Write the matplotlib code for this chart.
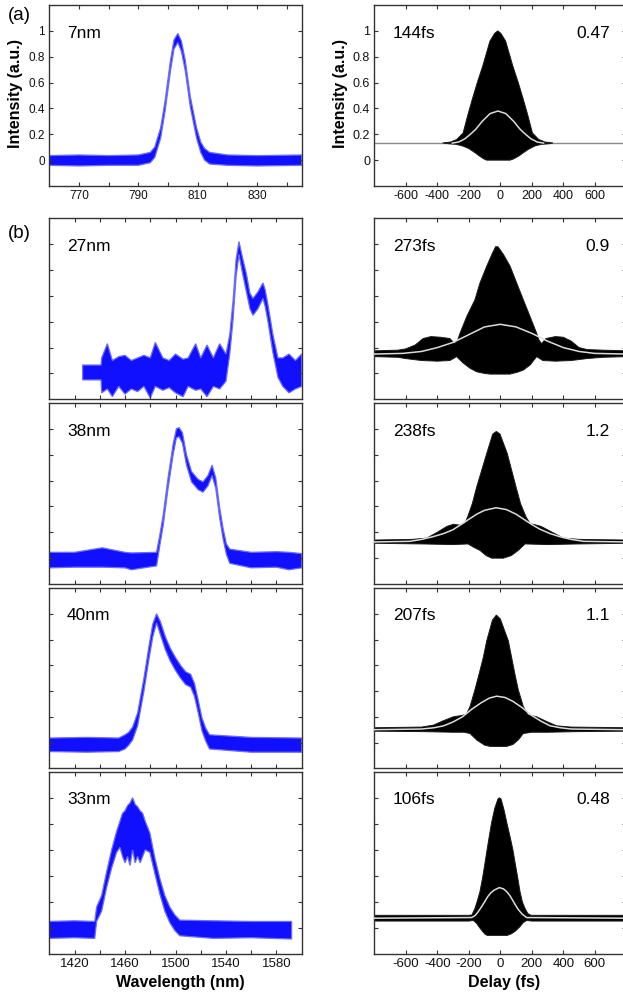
import matplotlib.pyplot as plt

plt.rcParams['font.family'] = ['Liberation Sans', 'DejaVu Sans']

# ---- spectra: wavelength (nm), lower / upper edge of the noisy trace (a.u.)
spec_a_wl = [760, 770, 780, 790, 794, 795.5, 797.5, 799, 800.8, 802, 803.3, 804.5, 805.8, 807.5,
             809.6, 811, 812.3, 814, 820, 830, 845]
spec_a_lo = [-0.04, -0.045, -0.04, -0.04, -0.02, 0.02, 0.17, 0.38, 0.69, 0.86, 0.91, 0.84, 0.69, 0.41,
             0.17, 0.06, 0.0, -0.03, -0.04, -0.045, -0.04]
spec_a_hi = [0.035, 0.04, 0.035, 0.04, 0.06, 0.1, 0.25, 0.46, 0.77, 0.93, 0.98, 0.92, 0.77, 0.49,
             0.25, 0.14, 0.09, 0.06, 0.04, 0.035, 0.04]

spec_b1_wl = [1426.4, 1441, 1441.5, 1446, 1450, 1455, 1460, 1465, 1470, 1475, 1480, 1484, 1490, 1495,
              1500, 1506, 1510, 1516, 1520, 1525, 1530, 1535, 1540, 1543, 1545.6, 1548, 1550.3, 1553,
              1556.2, 1559, 1561.4, 1565.3, 1569.3, 1571, 1573.3, 1577.2, 1581.2, 1585, 1590, 1595, 1600]
spec_b1_lo = [-0.05, -0.05, -0.15, -0.12, -0.18, -0.1, -0.16, -0.12, -0.14, -0.1, -0.19, -0.1, -0.13, -0.11,
              -0.15, -0.18, -0.1, -0.13, -0.12, -0.18, -0.1, -0.12, -0.06, 0.15, 0.42, 0.75, 0.92, 0.78,
              0.63, 0.5, 0.45, 0.5, 0.58, 0.52, 0.4, 0.16, -0.03, -0.1, -0.15, -0.12, -0.1]
spec_b1_hi = [0.065, 0.065, 0.12, 0.23, 0.1, 0.13, 0.14, 0.1, 0.12, 0.14, 0.12, 0.24, 0.12, 0.1,
              0.15, 0.11, 0.12, 0.23, 0.12, 0.22, 0.12, 0.23, 0.15, 0.3, 0.56, 0.88, 1.02, 0.9,
              0.77, 0.62, 0.58, 0.63, 0.7, 0.65, 0.53, 0.3, 0.12, 0.12, 0.15, 0.1, 0.15]

spec_b2_wl = [1400, 1420, 1442, 1460, 1465, 1485, 1487.6, 1490.2, 1494.1, 1498.1,
              1500.7, 1502.8, 1505.5, 1508.7, 1512.7, 1517.9, 1521.8, 1525.8, 1529, 1531.9, 1535, 1537.7,
              1540.3, 1543, 1560, 1580, 1590, 1600]
spec_b2_lo = [-0.075, -0.07, -0.07, -0.075, -0.09, -0.06, 0.1, 0.25, 0.54, 0.8,
              0.93, 0.94, 0.89, 0.72, 0.59, 0.53, 0.51, 0.56, 0.64, 0.54, 0.31, 0.15,
              0.03, -0.04, -0.075, -0.07, -0.09, -0.075]
spec_b2_hi = [0.045, 0.045, 0.08, 0.045, 0.04, 0.045, 0.18, 0.33, 0.62, 0.88,
              1.0, 1.01, 0.97, 0.8, 0.67, 0.61, 0.59, 0.64, 0.72, 0.62, 0.39, 0.23,
              0.11, 0.07, 0.045, 0.05, 0.045, 0.035]

spec_b3_wl = [1400, 1430, 1455, 1460, 1463, 1466, 1470, 1475, 1479, 1482, 1485, 1488, 1492,
              1496, 1500, 1504, 1508, 1512, 1515, 1518, 1521, 1524, 1527, 1560, 1600]
spec_b3_lo = [-0.07, -0.075, -0.07, -0.05, -0.02, 0.02, 0.13, 0.4, 0.65, 0.82, 0.93, 0.84, 0.72,
              0.63, 0.56, 0.5, 0.45, 0.43, 0.36, 0.23, 0.09, 0.01, -0.05, -0.075, -0.075]
spec_b3_hi = [0.035, 0.04, 0.035, 0.06, 0.08, 0.12, 0.23, 0.5, 0.75, 0.92, 1.0, 0.94, 0.82,
              0.73, 0.66, 0.6, 0.55, 0.53, 0.46, 0.33, 0.19, 0.11, 0.06, 0.04, 0.035]

spec_b4_wl = [1400, 1420, 1436, 1437.5, 1441.5, 1445.4, 1449.4, 1453.3, 1456, 1458, 1460, 1462,
              1464, 1466, 1468, 1470, 1472, 1474, 1476, 1479.7, 1483.6, 1487.6, 1491.5, 1495.5, 1499.5,
              1503.4, 1530, 1560, 1592]
spec_b4_lo = [-0.08, -0.075, -0.08, 0.05, 0.13, 0.31, 0.46, 0.58, 0.62, 0.55, 0.5, 0.55,
              0.48, 0.6, 0.5, 0.55, 0.5, 0.55, 0.6, 0.58, 0.42, 0.26, 0.13, 0.04, -0.02,
              -0.06, -0.08, -0.075, -0.085]
spec_b4_hi = [0.05, 0.055, 0.05, 0.16, 0.25, 0.43, 0.6, 0.74, 0.82, 0.88, 0.9, 0.94,
              0.96, 1.0, 0.95, 0.93, 0.9, 0.88, 0.82, 0.73, 0.54, 0.38, 0.25, 0.16, 0.1,
              0.06, 0.055, 0.05, 0.05]

spec_labels = ['7nm', '27nm', '38nm', '40nm', '33nm']

# ---- autocorrelations: delay (fs); upper / lower fringe envelope; intensity AC (white line)
ac_a_ut = [-366, -316, -276, -236, -206, -178, -146, -111, -66, -36, -16, 4, 34, 79, 114, 146, 174, 204,
           244, 284, 334]
ac_a_u = [0.133, 0.14, 0.16, 0.21, 0.35, 0.47, 0.6, 0.73, 0.92, 0.98, 1.0, 0.98, 0.92, 0.73, 0.6, 0.47, 0.35, 0.21,
          0.16, 0.14, 0.133]
ac_a_lt = [-330, -280, -240, -200, -160, -130, -105, -87, 62, 85, 115, 146, 180, 220, 260, 310]
ac_a_l = [0.127, 0.122, 0.11, 0.09, 0.057, 0.03, 0.01, 0.0, 0.0, 0.01, 0.03, 0.057, 0.085, 0.11, 0.122, 0.127]
ac_a_wt = [-305, -265, -225, -190, -155, -115, -65, -15, 35, 85, 125, 160, 195, 235, 275]
ac_a_w = [0.132, 0.14, 0.165, 0.2, 0.24, 0.3, 0.36, 0.38, 0.36, 0.3, 0.24, 0.2, 0.165, 0.14, 0.132]
ac_a_bt = [-800, 800]
ac_a_b = [0.13, 0.13]

ac_b1_ut = [-800, -650, -600, -540, -490, -440, -380, -320, -290, -270, -256, -213, -161, -129, -86, -50,
            -30, -15, 20, 62, 104, 146, 189, 231, 245, 262, 290, 350, 400, 450, 500, 550, 650, 800]
ac_b1_u = [0.175, 0.18, 0.19, 0.22, 0.27, 0.285, 0.28, 0.27, 0.23, 0.26, 0.31, 0.44, 0.57, 0.70, 0.83, 0.93,
           0.98, 0.98, 0.92, 0.83, 0.70, 0.57, 0.44, 0.31, 0.26, 0.23, 0.27, 0.285, 0.28, 0.25, 0.2, 0.185,
           0.18, 0.175]
ac_b1_lt = [-800, -650, -600, -500, -400, -320, -277, -235, -192, -150, -100, -65, 62, 110, 146, 189, 231,
            270, 350, 450, 550, 650, 800]
ac_b1_l = [0.13, 0.125, 0.115, 0.1, 0.095, 0.1, 0.13, 0.08, 0.04, 0.013, 0.0, -0.005, -0.005, 0.01, 0.026,
           0.065, 0.13, 0.1, 0.095, 0.1, 0.115, 0.125, 0.13]
ac_b1_wt = [-800, -620, -500, -400, -300, -200, -100, 0, 100, 200, 300, 400, 500, 600, 800]
ac_b1_w = [0.15, 0.155, 0.17, 0.2, 0.24, 0.3, 0.36, 0.38, 0.36, 0.31, 0.25, 0.2, 0.17, 0.155, 0.15]

ac_b2_ut = [-800, -560, -467, -400, -340, -298, -255, -225, -207, -178, -150, -118, -86, -48, -25, -2, 44,
            72, 100, 129, 163, 190, 215, 260, 330, 400, 500, 800]
ac_b2_u = [0.14, 0.145, 0.155, 0.2, 0.245, 0.262, 0.255, 0.27, 0.32, 0.42, 0.55, 0.68, 0.81, 0.96, 0.98, 0.96,
           0.81, 0.68, 0.55, 0.42, 0.32, 0.265, 0.26, 0.245, 0.2, 0.155, 0.145, 0.14]
ac_b2_lt = [-800, -500, -300, -205, -170, -129, -90, -55, 20, 70, 114, 157, 300, 500, 800]
ac_b2_l = [0.115, 0.11, 0.105, 0.11, 0.085, 0.06, 0.02, 0.0, 0.0, 0.02, 0.06, 0.11, 0.105, 0.11, 0.115]
ac_b2_wt = [-800, -573, -500, -430, -360, -300, -250, -200, -150, -100, -27, 40, 100, 150, 200, 250,
            316, 380, 450, 529, 800]
ac_b2_w = [0.125, 0.13, 0.145, 0.165, 0.19, 0.22, 0.26, 0.3, 0.34, 0.37, 0.39, 0.375, 0.34, 0.3, 0.26, 0.225,
           0.19, 0.165, 0.145, 0.13, 0.125]

ac_b3_ut = [-800, -500, -425, -360, -298, -245, -215, -192, -161, -135, -108, -86, -50, -25, 0, 51, 72,
            93, 114, 146, 175, 231, 300, 358, 450, 800]
ac_b3_u = [0.115, 0.12, 0.135, 0.17, 0.2, 0.21, 0.22, 0.28, 0.41, 0.53, 0.66, 0.79, 0.95, 0.99, 0.96, 0.79,
           0.66, 0.53, 0.41, 0.28, 0.215, 0.2, 0.16, 0.13, 0.12, 0.115]
ac_b3_lt = [-800, -500, -300, -230, -192, -150, -100, -65, 40, 80, 114, 146, 200, 300, 500, 800]
ac_b3_l = [0.088, 0.085, 0.08, 0.08, 0.07, 0.02, -0.02, -0.03, -0.03, -0.015, 0.02, 0.07, 0.08, 0.08, 0.085, 0.088]
ac_b3_wt = [-800, -500, -420, -360, -300, -240, -180, -120, -70, -23, 30, 80, 140, 200, 260, 316, 380,
            450, 800]
ac_b3_w = [0.1, 0.105, 0.115, 0.13, 0.16, 0.2, 0.26, 0.31, 0.345, 0.36, 0.35, 0.32, 0.27, 0.21, 0.165,
           0.13, 0.115, 0.105, 0.1]

ac_b4_ut = [-800, -200, -180, -161, -145, -129, -113, -97, -80, -65, -55, -35, -15, -6, 5, 25, 41, 62,
            80, 94, 110, 125, 140, 157, 175, 195, 800]
ac_b4_u = [0.097, 0.097, 0.1, 0.15, 0.21, 0.28, 0.38, 0.5, 0.63, 0.74, 0.81, 0.92, 0.99, 1.0, 0.99, 0.9, 0.81,
           0.7, 0.6, 0.5, 0.39, 0.28, 0.2, 0.15, 0.11, 0.097, 0.097]
ac_b4_lt = [-800, -200, -171, -150, -130, -110, -95, -82, 44, 70, 95, 125, 145, 167, 200, 800]
ac_b4_l = [0.053, 0.053, 0.058, 0.035, 0.0, -0.03, -0.05, -0.057, -0.057, -0.045, -0.025, 0.01, 0.04, 0.058,
           0.053, 0.053]
ac_b4_wt = [-800, -182, -160, -140, -118, -100, -80, -60, -40, -6, 20, 40, 60, 80, 94, 115, 140, 167, 800]
ac_b4_w = [0.075, 0.08, 0.095, 0.125, 0.165, 0.2, 0.24, 0.27, 0.29, 0.31, 0.3, 0.28, 0.25, 0.21, 0.18, 0.14,
           0.105, 0.08, 0.075]

ac_labels = ['144fs', '273fs', '238fs', '207fs', '106fs']
ac_ratios = ['0.47', '0.9', '1.2', '1.1', '0.48']

spectra = [(spec_a_wl, spec_a_lo, spec_a_hi), (spec_b1_wl, spec_b1_lo, spec_b1_hi),
           (spec_b2_wl, spec_b2_lo, spec_b2_hi), (spec_b3_wl, spec_b3_lo, spec_b3_hi),
           (spec_b4_wl, spec_b4_lo, spec_b4_hi)]
autocorr = [(ac_a_ut, ac_a_u, ac_a_lt, ac_a_l, ac_a_wt, ac_a_w),
            (ac_b1_ut, ac_b1_u, ac_b1_lt, ac_b1_l, ac_b1_wt, ac_b1_w),
            (ac_b2_ut, ac_b2_u, ac_b2_lt, ac_b2_l, ac_b2_wt, ac_b2_w),
            (ac_b3_ut, ac_b3_u, ac_b3_lt, ac_b3_l, ac_b3_wt, ac_b3_w),
            (ac_b4_ut, ac_b4_u, ac_b4_lt, ac_b4_l, ac_b4_wt, ac_b4_w)]

W, H = 623, 992
fig = plt.figure(figsize=(W / 100, H / 100), dpi=100)

# panel edges in pixels
rows = [(5, 186), (218.3, 399.3), (403, 584), (588, 768.3), (771.7, 954)]
cols = [(49.3, 301.7), (374.3, 626.3)]


def make_ax(col, row):
    (x0, x1), (y0, y1) = cols[col], rows[row]
    ax = fig.add_axes([x0 / W, 1 - y1 / H, (x1 - x0) / W, (y1 - y0) / H])
    ax.set_ylim(-0.2, 1.2)
    ax.set_yticks([0, 0.2, 0.4, 0.6, 0.8, 1])
    ax.set_yticklabels(['0', '0.2', '0.4', '0.6', '0.8', '1'])
    ax.tick_params(direction='in', length=3, width=0.8, top=True, right=True,
                   labelsize=9, pad=3, colors='#333333', labelcolor='#111111')
    ax.tick_params(labelleft=(row == 0), labelbottom=(row in (0, 4)))
    for s in ax.spines.values():
        s.set_linewidth(1.0)
        s.set_color('#333333')
    return ax


for i in range(5):
    # spectrum: noisy trace drawn as its band
    ax = make_ax(0, i)
    wl, lo, hi = spectra[i]
    ax.fill(wl + wl[::-1], hi + lo[::-1], fc='#1010ff', ec='#6b6bff', lw=0.9)
    if i == 0:
        ax.set_xlim(760, 845)
        ax.set_xticks(range(770, 850, 10))
        ax.set_xticklabels([str(v) if v % 20 == 10 else '' for v in range(770, 850, 10)])
        ax.tick_params(labelsize=8.5)
    else:
        ax.set_xlim(1400, 1600)
        ax.set_xticks(range(1420, 1600, 20))
        ax.set_xticklabels([str(v) if v % 40 == 20 else '' for v in range(1420, 1600, 20)])
        ax.tick_params(labelsize=9.5)
    ax.text(0.07, 0.845, spec_labels[i], transform=ax.transAxes, fontsize=12.5, va='center', ha='left')

    # autocorrelation
    ax = make_ax(1, i)
    ut, u, lt, l, wt, w = autocorr[i]
    if i == 0:
        ax.plot(ac_a_bt, ac_a_b, color='#8a8a8a', lw=1.0, zorder=1)
    ax.fill(ut + lt[::-1], u + l[::-1], fc='black', ec='#1a1a1a', lw=0.7, zorder=2)
    ax.plot(wt, w, color='#dcdcdc', lw=1.1, zorder=3)
    ax.set_xlim(-800, 800)
    ax.set_xticks(range(-600, 601, 200))
    ax.set_xticklabels([str(v) for v in range(-600, 601, 200)])
    ax.tick_params(labelsize=9.5 if i else 9)
    ax.text(0.073, 0.845, ac_labels[i], transform=ax.transAxes, fontsize=12.5, va='center', ha='left')
    ax.text(0.935, 0.845, ac_ratios[i], transform=ax.transAxes, fontsize=12.5, va='center', ha='right')

fig.text(16 / W, 1 - 93 / H, 'Intensity (a.u.)', rotation=90, fontsize=11.5, fontweight='bold',
         ha='center', va='center')
fig.text(340 / W, 1 - 93 / H, 'Intensity (a.u.)', rotation=90, fontsize=11.5, fontweight='bold',
         ha='center', va='center')
fig.text(180 / W, 1 - 982 / H, 'Wavelength (nm)', fontsize=11.5, fontweight='bold', ha='center', va='center')
fig.text(504 / W, 1 - 982 / H, 'Delay (fs)', fontsize=11.5, fontweight='bold', ha='center', va='center')
fig.text(19 / W, 1 - 16 / H, '(a)', fontsize=13.5, ha='center', va='center')
fig.text(19 / W, 1 - 233 / H, '(b)', fontsize=13.5, ha='center', va='center')

fig.savefig('out.png', dpi=100)
